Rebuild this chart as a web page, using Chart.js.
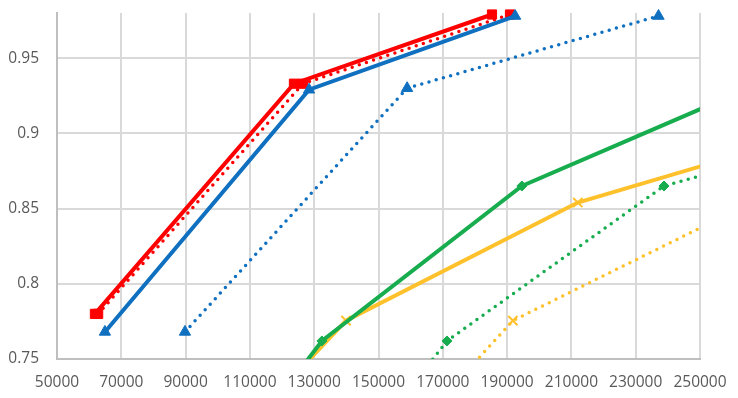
<!DOCTYPE html>
<html>
<head>
<meta charset="utf-8">
<script src="https://cdn.jsdelivr.net/npm/chart.js@4/dist/chart.umd.min.js"></script>
<style>
  html, body { margin: 0; padding: 0; background: #fff; }
  #wrap { width: 738px; height: 398px; position: relative; }
</style>
</head>
<body>
<div id="wrap"><canvas id="chart"></canvas></div>
<script>
// tick values
var xTicks = [50000, 70000, 90000, 110000, 130000, 150000, 170000, 190000, 210000, 230000, 250000];
var yTicks = [0.75, 0.8, 0.85, 0.9, 0.95];

// series (points outside the axis range are clipped)
var redSolidX = [61800, 123700, 185300];
var redSolidY = [0.78, 0.933, 0.979];
var redDotX = [62800, 126500, 190900];
var redDotY = [0.78, 0.933, 0.979];
var blueSolidX = [64900, 128400, 192500];
var blueSolidY = [0.768, 0.929, 0.978];
var blueDotX = [89800, 158900, 237100];
var blueDotY = [0.768, 0.93, 0.978];
var greenSolidX = [100000, 132400, 194600, 300000];
var greenSolidY = [0.671, 0.762, 0.865, 0.962];
var greenDotX = [138300, 171300, 238800, 380000];
var greenDotY = [0.671, 0.762, 0.865, 0.95];
var goldSolidX = [100000, 139900, 212000, 300000];
var goldSolidY = [0.685, 0.7755, 0.854, 0.9095];
var goldDotX = [153100, 191800, 266000];
var goldDotY = [0.685, 0.7755, 0.854];

var RED = "#ff0000", BLUE = "#0f70c0", GREEN = "#17ad4f", GOLD = "#ffc12b";

function pts(xs, ys) {
  return xs.map(function (x, i) { return { x: x, y: ys[i] }; });
}

function series(label, xs, ys, color, style, radius, dotted) {
  return {
    label: label,
    data: pts(xs, ys),
    borderColor: color,
    backgroundColor: color,
    borderWidth: dotted ? 3.5 : 4,
    borderDash: dotted ? [0, 7.5] : [],
    borderCapStyle: dotted ? "round" : "butt",
    pointStyle: style,
    pointRadius: radius,
    pointHoverRadius: radius,
    pointBorderWidth: style === "crossRot" ? 2 : 1,
    pointBorderColor: color,
    pointBackgroundColor: color,
    tension: 0,
    fill: false,
    clip: { left: 0, top: 14, right: 0, bottom: 0 },
  };
}

var datasets = [
  series("blue", blueSolidX, blueSolidY, BLUE, "triangle", 6.5, false),
  series("red", redSolidX, redSolidY, RED, "rect", 6.5, false),
  series("red dotted", redDotX, redDotY, RED, "rect", 6.5, true),
  series("blue dotted", blueDotX, blueDotY, BLUE, "triangle", 6.5, true),
  series("green", greenSolidX, greenSolidY, GREEN, "rectRot", 5, false),
  series("gold", goldSolidX, goldSolidY, GOLD, "crossRot", 6.5, false),
  series("green dotted", greenDotX, greenDotY, GREEN, "rectRot", 5, true),
  series("gold dotted", goldDotX, goldDotY, GOLD, "crossRot", 6.5, true),
];

var labelFont = { family: "'Open Sans', sans-serif", size: 15.5 };

new Chart(document.getElementById("chart"), {
  type: "line",
  data: { datasets: datasets },
  options: {
    responsive: true,
    maintainAspectRatio: false,
    animation: false,
    layout: { padding: { top: 13, right: 38, left: 0, bottom: 0 } },
    scales: {
      x: {
        type: "linear",
        min: 50000,
        max: 250000,
        afterFit: function (scale) {
          scale.height = 39;
          scale.paddingLeft = 0;
          scale.paddingRight = 0;
        },
        afterBuildTicks: function (scale) {
          scale.ticks = xTicks.map(function (v) { return { value: v }; });
        },
        ticks: {
          color: "#595959",
          font: labelFont,
          padding: 14,
          maxRotation: 0,
          autoSkip: false,
          callback: function (v) { return String(v); },
        },
        grid: { color: "#d9d9d9", lineWidth: 2, drawTicks: false },
        border: { color: "#bfbfbf", width: 2 },
      },
      y: {
        min: 0.75,
        max: 0.98,
        afterFit: function (scale) {
          scale.width = 57;
          scale.paddingTop = 0;
          scale.paddingBottom = 0;
        },
        afterBuildTicks: function (scale) {
          scale.ticks = yTicks.map(function (v) { return { value: v }; });
        },
        ticks: {
          color: "#595959",
          font: labelFont,
          padding: 18,
          callback: function (v) { return String(v); },
        },
        grid: { color: "#d9d9d9", lineWidth: 2, drawTicks: false },
        border: { color: "#bfbfbf", width: 2 },
      },
    },
    plugins: {
      legend: { display: false },
      tooltip: { enabled: false },
    },
  },
});
</script>
</body>
</html>
